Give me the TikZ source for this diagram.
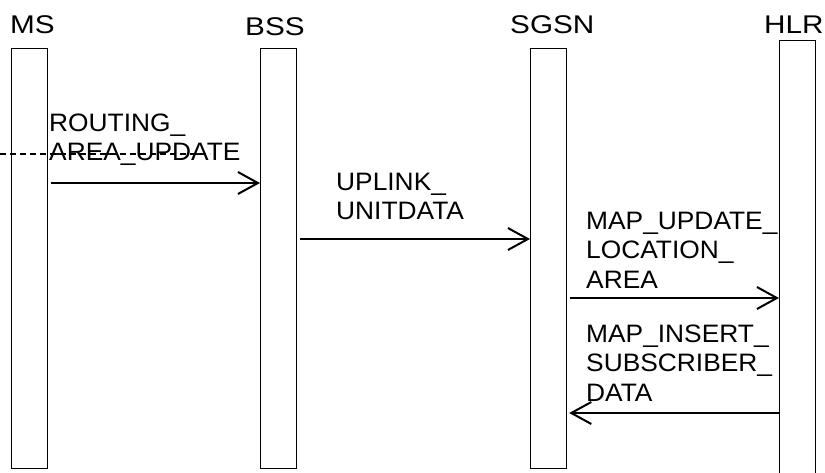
\documentclass[tikz,border=0pt]{standalone}
\usepackage{fontspec}
\setmainfont{Liberation Sans}
\newfontfamily\headfnt[FakeStretch=1.16]{Liberation Sans}
\newfontfamily\lblfnt[FakeStretch=1.045]{Liberation Sans}
\usetikzlibrary{arrows.meta}
\begin{document}
\begin{tikzpicture}[x=1pt,y=-1pt,
  life/.style={draw, line width=1.2pt, minimum width=36pt, inner sep=0pt, anchor=north west},
  head/.style={font=\headfnt\fontsize{25.6}{30}\selectfont, inner sep=0pt, anchor=base west},
  lbl/.style={font=\lblfnt\fontsize{25.2}{29.5}\selectfont, inner sep=0pt, anchor=base west},
  msg/.style={line width=2pt, -{Straight Barb[length=20pt,width=22pt,line width=2pt]}},
  ext/.style={line width=1.5pt, dash pattern=on 6pt off 4pt}]
\useasboundingbox (0,0) rectangle (825,472);
% lifeline boxes
\node[life, minimum height=420pt] (ms)   at (11,48)  {};
\node[life, minimum height=420pt] (bss)  at (260,48) {};
\node[life, minimum height=420pt] (sgsn) at (530,48) {};
\node[life, minimum height=436pt] (hlr)  at (779,40) {};
% headers
\node[head] (hms)   at (10,33)  {MS};
\node[head] (hbss)  at (245,35) {BSS};
\node[head] (hsgsn) at (510,33) {SGSN};
\node[head] (hhlr)  at (764,33) {HLR};
% labels
\node[lbl] (l1) at (49,131)  {\begin{tabular}[t]{@{}l@{}}ROUTING\_\\AREA\_UPDATE\end{tabular}};
\node[lbl] (l2) at (336,190) {\begin{tabular}[t]{@{}l@{}}UPLINK\_\\UNITDATA\end{tabular}};
\node[lbl] (l3) at (586,229) {\begin{tabular}[t]{@{}l@{}}MAP\_UPDATE\_\\LOCATION\_\\AREA\end{tabular}};
\node[lbl] (l4) at (586,342) {\begin{tabular}[t]{@{}l@{}}MAP\_INSERT\_\\SUBSCRIBER\_\\DATA\end{tabular}};
% dashed incoming line
\coordinate (d0) at (0,154);
\coordinate (d1) at (210,154);
\draw[ext] (d0) -- (d1);
% messages
\draw[msg] ([xshift=3pt]ms.east |- 0,183) -- (bss.west |- 0,183);
\draw[msg] ([xshift=3pt]bss.east |- 0,239) -- (sgsn.west |- 0,239);
\draw[msg] ([xshift=3pt]sgsn.east |- 0,298) -- (hlr.west |- 0,298);
\draw[msg] (hlr.west |- 0,413) -- ([xshift=2pt]sgsn.east |- 0,413);
\end{tikzpicture}
\end{document}
